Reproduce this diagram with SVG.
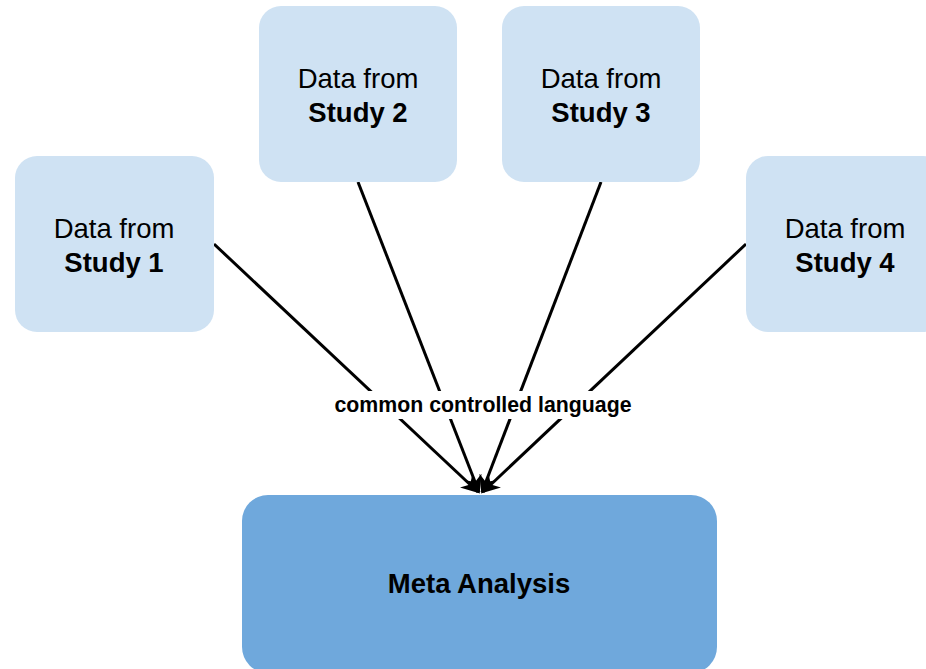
<svg xmlns="http://www.w3.org/2000/svg" width="926" height="669" viewBox="0 0 926 669">
<style>
.study{fill:#cfe2f3;}
.meta{fill:#6fa8dc;}
.t{font-family:"Liberation Sans",Arial,sans-serif;font-size:27.5px;fill:#000;text-anchor:middle;}
.b{font-weight:bold;}
.edge{stroke:#000;stroke-width:3;fill:none;marker-end:url(#ah);}
.lbl{font-family:"Liberation Sans",Arial,sans-serif;font-size:21.3px;font-weight:bold;text-anchor:middle;fill:#000;}
</style>
<defs>
<marker id="ah" viewBox="0 0 10 10" refX="9" refY="5" markerWidth="6" markerHeight="6" orient="auto" markerUnits="strokeWidth">
<path d="M0,0 L10,5 L0,10 L3,5 Z" fill="#000"/>
</marker>
</defs>
<rect width="926" height="669" fill="#fff"/>
<g id="connectors">
<line class="edge" x1="214" y1="244" x2="478" y2="492"/>
<line class="edge" x1="358" y1="182" x2="479" y2="492"/>
<line class="edge" x1="601" y1="182" x2="482" y2="492"/>
<line class="edge" x1="746" y1="244" x2="483" y2="492"/>
<rect x="328" y="391" width="310" height="28" fill="#fff"/>
<text class="lbl" x="483" y="412">common controlled language</text>
</g>
<g id="study1">
<rect class="study" x="15" y="156" width="199" height="176" rx="22"/>
<text class="t" x="114" y="238">Data from</text>
<text class="t b" x="114" y="272">Study 1</text>
</g>
<g id="study2">
<rect class="study" x="259" y="6" width="198" height="176" rx="22"/>
<text class="t" x="358" y="88">Data from</text>
<text class="t b" x="358" y="122">Study 2</text>
</g>
<g id="study3">
<rect class="study" x="502" y="6" width="198" height="176" rx="22"/>
<text class="t" x="601" y="88">Data from</text>
<text class="t b" x="601" y="122">Study 3</text>
</g>
<g id="study4">
<rect class="study" x="746" y="156" width="199" height="176" rx="22"/>
<text class="t" x="845" y="238">Data from</text>
<text class="t b" x="845" y="272">Study 4</text>
</g>
<g id="meta">
<rect class="meta" x="242" y="495" width="475" height="178" rx="26"/>
<text class="t b" x="479" y="593">Meta Analysis</text>
</g>
</svg>
